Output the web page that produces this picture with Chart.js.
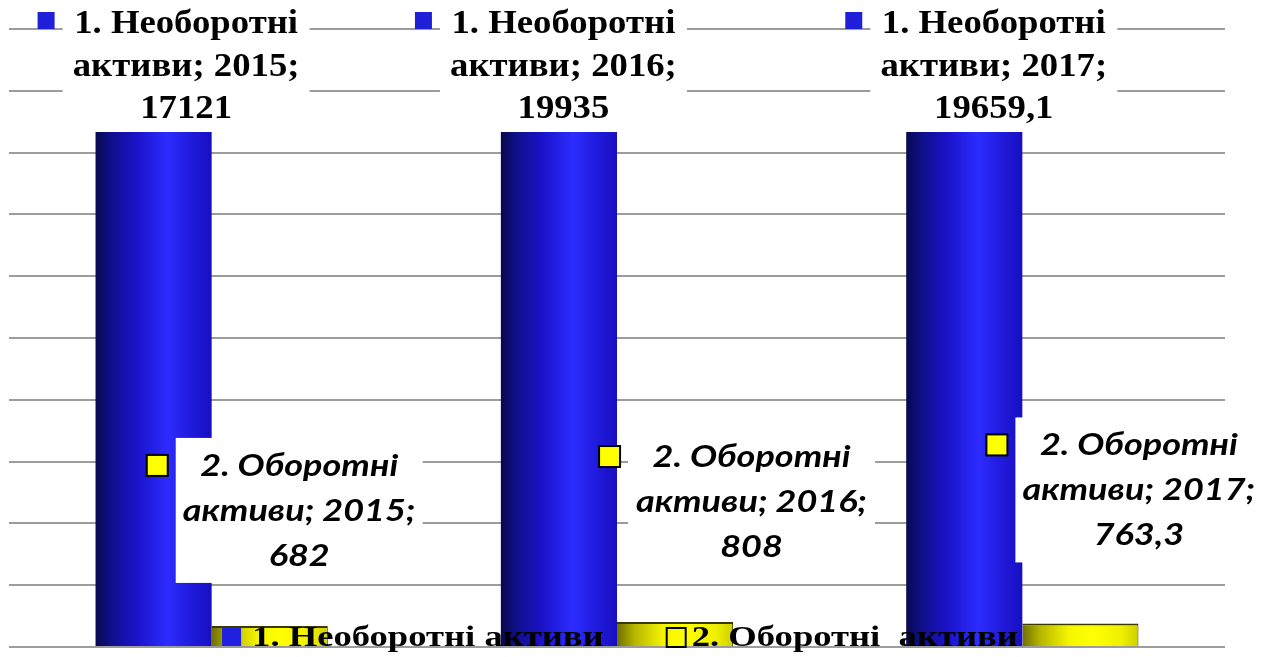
<!DOCTYPE html>
<html>
<head>
<meta charset="utf-8">
<script src="https://cdn.jsdelivr.net/npm/chart.js@4.4.1/dist/chart.umd.min.js"></script>
<style>
html,body{margin:0;padding:0;background:#fff;}
#wrap{width:1273px;height:657px;position:relative;}
</style>
</head>
<body>
<div id="wrap"><canvas id="c"></canvas></div>
<script>
// ---- data ----
const categories = ['2015', '2016', '2017'];
const seriesNames = ['1. Необоротні активи', '2. Оборотні  активи'];
const nonCurrentAssets = [17121, 19935, 19659.1];
const currentAssets = [682, 808, 763.3];
const yTicks = [0, 2000, 4000, 6000, 8000, 10000, 12000, 14000, 16000, 18000, 20000];

const CAT_PCT = 0.573;
const fmt = v => String(v).replace('.', ',');

function barGradient(ctx, stops, solid) {
  if (ctx.type !== 'data') return solid;
  const chart = ctx.chart;
  const xs = chart.scales.x;
  if (!xs || !chart.chartArea) return solid;
  const cx = xs.getPixelForValue(ctx.dataIndex);
  const catW = xs.width / categories.length;
  const groupW = catW * CAT_PCT;
  const left = cx - groupW / 2 + ctx.datasetIndex * groupW / 2;
  const right = left + groupW / 2;
  const g = chart.ctx.createLinearGradient(left, 0, right, 0);
  stops.forEach(s => g.addColorStop(s[0], s[1]));
  return g;
}
const blueStops = [[0, '#08084e'], [0.12, '#0f0f86'], [0.35, '#1a12c8'], [0.62, '#2c2cff'], [0.85, '#1f18d8'], [1, '#1710c0']];
const yellowStops = [[0, '#6f6f00'], [0.15, '#b5b500'], [0.4, '#f5f500'], [0.6, '#ffff00'], [0.85, '#f0f000'], [1, '#cfcf00']];

// label placement (offsets from bar)
const blueDx = [32.5, 4.5, 29.5];
const yellowDx = [29.5, 76.5, 58.5];
const yellowDy = [-188, -193, -206];

function stretchedText(c, t, x, y, sx, align) {
  c.save();
  c.translate(x, y);
  c.scale(sx, 1);
  c.textAlign = align;
  c.fillText(t, 0, 0);
  c.restore();
}

const BLUE_FONT = 'bold 34px "Liberation Serif"', BLUE_SX = 1.08;
const YEL_FONT = 'italic bold 30px Lato', YEL_SX = 1.2;
const LEG_FONT = 'bold 30px "Liberation Serif"', LEG_SX = 1.22;

const labelsPlugin = {
  id: 'excelLabels',
  afterDatasetsDraw(chart) {
    const c = chart.ctx;
    const ca = chart.chartArea;
    c.save();
    c.textBaseline = 'alphabetic';
    // series 1
    const m0 = chart.getDatasetMeta(0);
    m0.data.forEach((el, j) => {
      const w = 247, h = 137;
      const cx = el.x + blueDx[j];
      const left = cx - w / 2;
      const top = ca.top - 34;
      c.fillStyle = '#ffffff';
      c.fillRect(left, top, w, h);
      c.fillStyle = '#2020d8';
      c.fillRect(left - 25, top + 17, 17, 17);
      c.fillStyle = '#000';
      c.font = BLUE_FONT;
      const parts = seriesNames[0].split(' ');
      const lines = [parts[0] + ' ' + parts[1], parts.slice(2).join(' ') + '; ' + categories[j] + ';', fmt(nonCurrentAssets[j])];
      lines.forEach((t, k) => stretchedText(c, t, cx, top + 38 + k * 42.5, BLUE_SX, 'center'));
    });
    // series 2
    const m1 = chart.getDatasetMeta(1);
    m1.data.forEach((el, j) => {
      const w = 247, h = 145;
      const cx = el.x + yellowDx[j];
      const left = cx - w / 2;
      const top = el.y + yellowDy[j];
      c.fillStyle = '#ffffff';
      c.fillRect(left, top, w, h);
      c.fillStyle = '#ffff00';
      c.fillRect(left - 29, top + 17, 21, 21);
      c.strokeStyle = '#000';
      c.lineWidth = 2;
      c.strokeRect(left - 29, top + 17, 21, 21);
      c.fillStyle = '#000';
      c.font = YEL_FONT;
      const parts = seriesNames[1].split(/\s+/);
      const lines = [parts[0] + ' ' + parts[1], parts.slice(2).join(' ') + '; ' + categories[j] + ';', fmt(currentAssets[j])];
      lines.forEach((t, k) => stretchedText(c, t, cx, top + 38 + k * 45, YEL_SX, 'center'));
    });
    c.restore();
  },
  afterDraw(chart) {
    // legend drawn over plot, as in the original
    const c = chart.ctx;
    const ca = chart.chartArea;
    c.save();
    c.font = LEG_FONT;
    c.textBaseline = 'alphabetic';
    const base = ca.bottom - 1;
    const box = 19, gapBox = 11, gapItem = 63;
    const w0 = c.measureText(seriesNames[0]).width * LEG_SX;
    const w1 = c.measureText(seriesNames[1]).width * LEG_SX;
    const total = box + gapBox + w0 + gapItem + box + 6 + w1;
    let x = (ca.left + ca.right) / 2 + 3 - total / 2;
    c.fillStyle = '#2020e0';
    c.fillRect(x, base - 19, box, box);
    x += box + gapBox;
    c.fillStyle = '#000';
    stretchedText(c, seriesNames[0], x, base, LEG_SX, 'left');
    x += w0 + gapItem;
    c.strokeStyle = '#000';
    c.lineWidth = 2;
    c.strokeRect(x, base - 18, box, box);
    x += box + 6;
    stretchedText(c, seriesNames[1], x, base, LEG_SX, 'left');
    c.restore();
  }
};

new Chart(document.getElementById('c'), {
  type: 'bar',
  data: {
    labels: categories,
    datasets: [
      {
        label: seriesNames[0],
        data: nonCurrentAssets,
        backgroundColor: ctx => barGradient(ctx, blueStops, '#2020e0'),
        borderWidth: 0,
        categoryPercentage: CAT_PCT,
        barPercentage: 1
      },
      {
        label: seriesNames[1],
        data: currentAssets,
        backgroundColor: ctx => barGradient(ctx, yellowStops, '#ffff00'),
        borderColor: '#3a3a00',
        borderWidth: { top: 2, right: 1, left: 0, bottom: 0 },
        borderSkipped: 'bottom',
        categoryPercentage: CAT_PCT,
        barPercentage: 1
      }
    ]
  },
  options: {
    responsive: true,
    maintainAspectRatio: false,
    animation: false,
    layout: { padding: { left: 9, right: 48, top: 29, bottom: 10 } },
    plugins: { legend: { display: false }, tooltip: { enabled: false } },
    scales: {
      x: { display: false, offset: true },
      y: {
        min: 0,
        max: yTicks[yTicks.length - 1],
        afterBuildTicks: s => { s.ticks = yTicks.map(v => ({ value: v })); },
        afterFit: s => { s.width = 0; },
        ticks: { display: false },
        border: { display: false },
        grid: { color: '#9c9c9c', lineWidth: 2, drawTicks: false }
      }
    }
  },
  plugins: [labelsPlugin]
});
</script>
</body>
</html>
